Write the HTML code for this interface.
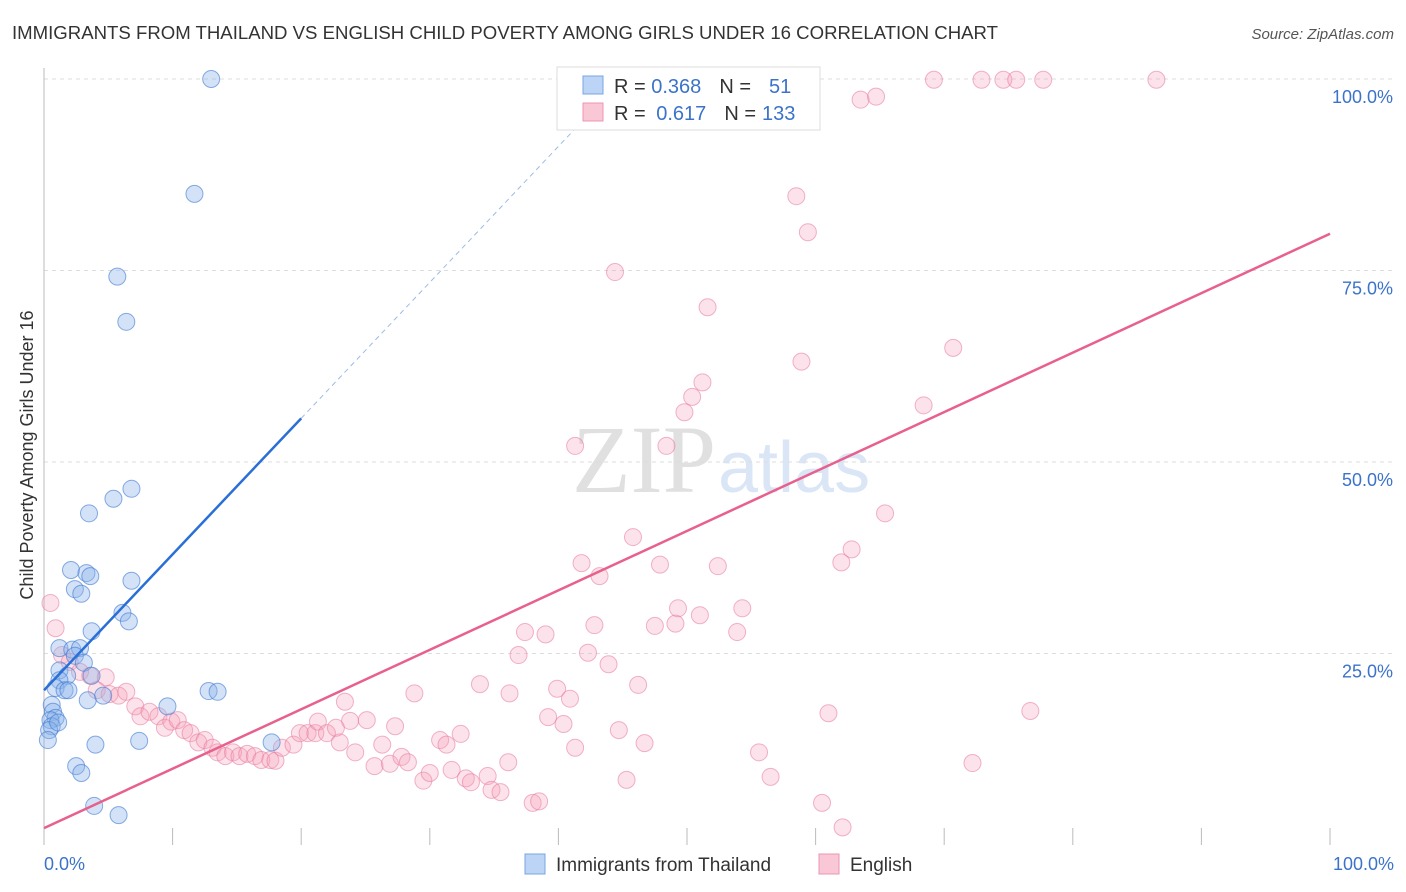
<!DOCTYPE html>
<html><head><meta charset="utf-8"><style>
body{margin:0;background:#fff;font-family:"Liberation Sans",sans-serif}
svg{display:block}
</style></head><body>
<svg id="c" width="1406" height="892">
<text x="12" y="39" font-size="18.6" fill="#333">IMMIGRANTS FROM THAILAND VS ENGLISH CHILD POVERTY AMONG GIRLS UNDER 16 CORRELATION CHART</text>
<text x="1394" y="39" font-size="15" fill="#555" font-style="italic" text-anchor="end">Source: ZipAtlas.com</text>
<text x="716" y="492" font-size="96" fill="#e0e0e0" text-anchor="end" font-family="Liberation Serif">ZIP</text>
<text x="718" y="492" font-size="72" fill="#dae6f6">atlas</text>
<text transform="translate(33,455) rotate(-90)" font-size="18" fill="#333" text-anchor="middle">Child Poverty Among Girls Under 16</text>
<g id="grid"></g><g id="pts"></g><g id="lines"></g>
<g>
<rect x="557" y="67" width="263" height="63" fill="#fff" stroke="#ddd"/>
<rect x="583" y="76" width="20" height="18" fill="#bcd4f5" stroke="#7aa6e0"/>
<rect x="583" y="103" width="20" height="18" fill="#f9c7d6" stroke="#ea97b2"/>
<text x="614" y="93" font-size="20" fill="#333">R = <tspan fill="#3b73c9">0.368</tspan><tspan dx="18">N =</tspan><tspan fill="#3b73c9" dx="18">51</tspan></text>
<text x="614" y="120" font-size="20" fill="#333">R = <tspan fill="#3b73c9" dx="5">0.617</tspan><tspan dx="18">N =</tspan><tspan fill="#3b73c9" dx="6">133</tspan></text>
</g>
<g>
<rect x="525" y="854" width="20" height="20" fill="#bcd4f5" stroke="#7aa6e0"/>
<text x="556" y="871" font-size="19" fill="#333">Immigrants from Thailand</text>
<rect x="819" y="854" width="20" height="20" fill="#f9c7d6" stroke="#ea97b2"/>
<text x="850" y="871" font-size="19" fill="#333">English</text>
</g>
</svg>
<script>
const blueX=[13.0,11.7,5.7,6.4,6.8,5.4,3.5,2.1,3.3,3.6,6.8,2.4,2.9,6.1,6.6,3.7,1.2,2.2,2.8,2.4,3.1,1.2,1.8,1.2,3.7,0.9,1.6,1.9,3.4,4.6,9.6,12.8,13.5,0.6,0.7,0.9,0.5,0.6,0.4,4.0,7.4,17.7,2.5,2.9,3.9,5.8,1.1,0.3];
const blueY=[100,85,74.2,68.3,46.5,45.2,43.3,35.9,35.5,35.1,34.5,33.4,32.8,30.3,29.2,27.9,25.7,25.5,25.7,24.7,23.8,22.8,22.1,21.5,22.1,20.5,20.2,20.2,18.9,19.5,18.1,20.1,20.0,18.3,17.4,16.6,16.3,15.5,15.0,13.1,13.6,13.4,10.3,9.4,5.1,3.9,16.0,13.7];
const pinkX=[0.5,0.9,1.4,2.0,2.8,3.6,4.8,4.1,5.1,5.8,6.4,7.1,7.5,8.2,8.9,9.4,9.9,10.4,10.9,11.4,12.0,12.5,13.1,13.5,14.1,14.7,15.2,15.8,16.4,16.9,17.6,18.0,18.5,19.4,19.9,20.5,21.1,21.3,22.0,23.0,23.4,22.7,23.8,24.2,25.1,25.7,26.3,26.9,27.3,27.8,28.3,28.8,29.5,30.0,30.8,31.3,31.7,32.4,32.8,33.2,33.9,34.5,34.8,35.5,36.1,36.2,36.9,37.4,38.0,38.5,39.0,39.2,39.9,40.4,40.9,41.3,41.8,42.3,42.8,43.2,43.9,44.4,44.7,45.3,45.8,46.2,46.7,47.5,47.9,48.4,49.1,49.3,49.8,50.4,51.0,51.2,51.6,52.4,53.3,53.9,54.3,55.6,56.5,58.5,58.9,59.4,60.5,61.0,62.0,62.1,62.8,63.5,64.7,65.4,68.4,69.2,70.7,72.2,72.9,74.6,75.6,76.7,77.7,86.5,41.3];
const pinkY=[31.6,28.3,24.8,23.9,22.6,22.1,21.9,20.2,19.7,19.5,20.0,18.1,16.8,17.4,16.8,15.3,16.1,16.3,15.0,14.6,13.4,13.7,12.7,12.1,11.6,12.1,11.6,11.9,11.6,11.1,11.1,11.0,12.7,13.1,14.6,14.6,14.6,16.1,14.6,13.4,18.7,15.3,16.2,12.1,16.3,10.3,13.1,10.6,15.5,11.5,10.8,19.8,8.4,9.4,13.7,13.1,9.8,14.5,8.7,8.2,21.0,9.0,7.2,6.9,10.8,19.8,24.8,27.8,5.5,5.7,27.5,16.7,20.4,15.8,19.1,12.7,36.8,25.1,28.7,35.1,23.6,74.8,15.0,8.5,40.2,20.9,13.3,28.6,36.6,52.1,28.9,30.9,56.5,58.5,30.0,60.4,70.2,36.4,99.9,27.8,30.9,12.1,8.9,84.7,63.1,80.0,5.5,17.2,36.9,2.3,38.6,97.3,97.7,43.3,57.4,99.9,64.9,10.7,99.9,99.9,99.9,17.5,99.9,99.9,52.1];
const blueLine=[20.2,55.7]; // y at x=0 and x=20
const pinkLine=[2.2,79.8]; // y at x=0 and x=100
const yTicks=[25,50,75,100];
const NS='http://www.w3.org/2000/svg';
const sx=v=>44+v*12.86, sy=v=>845-v*7.66;
function mk(p,t,a){const e=document.createElementNS(NS,t);for(const k in a)e.setAttribute(k,a[k]);p.appendChild(e);return e;}
const g=document.getElementById('grid'),P=document.getElementById('pts'),L=document.getElementById('lines');
yTicks.forEach(v=>{
 const l=mk(g,'line',{x1:44,x2:1394,y1:sy(v),y2:sy(v),stroke:'#ddd','stroke-dasharray':'4,4'});
 
 
 const t=mk(g,'text',{x:1393,y:sy(v)+24,'font-size':18,fill:'#3b73c9','text-anchor':'end'});t.textContent=v.toFixed(1)+'%';
 
 
});
const ax=mk(g,'line',{x1:44,x2:44,y1:68,y2:845,stroke:'#bbb'});


for(let i=0;i<=10;i++){const t=mk(g,'line',{x1:sx(i*10),x2:sx(i*10),y1:828,y2:845,stroke:'#bbb'});
 
 }
[[0,'0.0%','start',44],[100,'100.0%','end',1394]].forEach(a=>{const t=mk(g,'text',{x:a[3],y:870,'font-size':18,fill:'#3b73c9','text-anchor':a[2]});t.textContent=a[1];
 
 });
pinkX.forEach((x,i)=>{const c=mk(P,'circle',{cx:sx(x),cy:sy(pinkY[i]),r:8.5,fill:'rgba(244,160,186,0.3)',stroke:'rgba(232,120,155,0.55)','stroke-width':1});
 
 });
blueX.forEach((x,i)=>{const c=mk(P,'circle',{cx:sx(x),cy:sy(blueY[i]),r:8.5,fill:'rgba(140,180,235,0.38)',stroke:'rgba(60,120,210,0.6)','stroke-width':1});
 
 });
const bs=(blueLine[1]-blueLine[0])/20;
const bl=mk(L,'line',{x1:sx(0),y1:sy(blueLine[0]),x2:sx(20),y2:sy(blueLine[1]),stroke:'#2a6fd6','stroke-width':2.5});


const xe=(100-blueLine[0])/bs;
const bd=mk(L,'line',{x1:sx(20),y1:sy(blueLine[1]),x2:sx(xe),y2:sy(100),stroke:'#9bbbe6','stroke-width':1,'stroke-dasharray':'5,4'});


const pl=mk(L,'line',{x1:sx(0),y1:sy(pinkLine[0]),x2:sx(100),y2:sy(pinkLine[1]),stroke:'#e8608c','stroke-width':2.5});


</script>
</body></html>
